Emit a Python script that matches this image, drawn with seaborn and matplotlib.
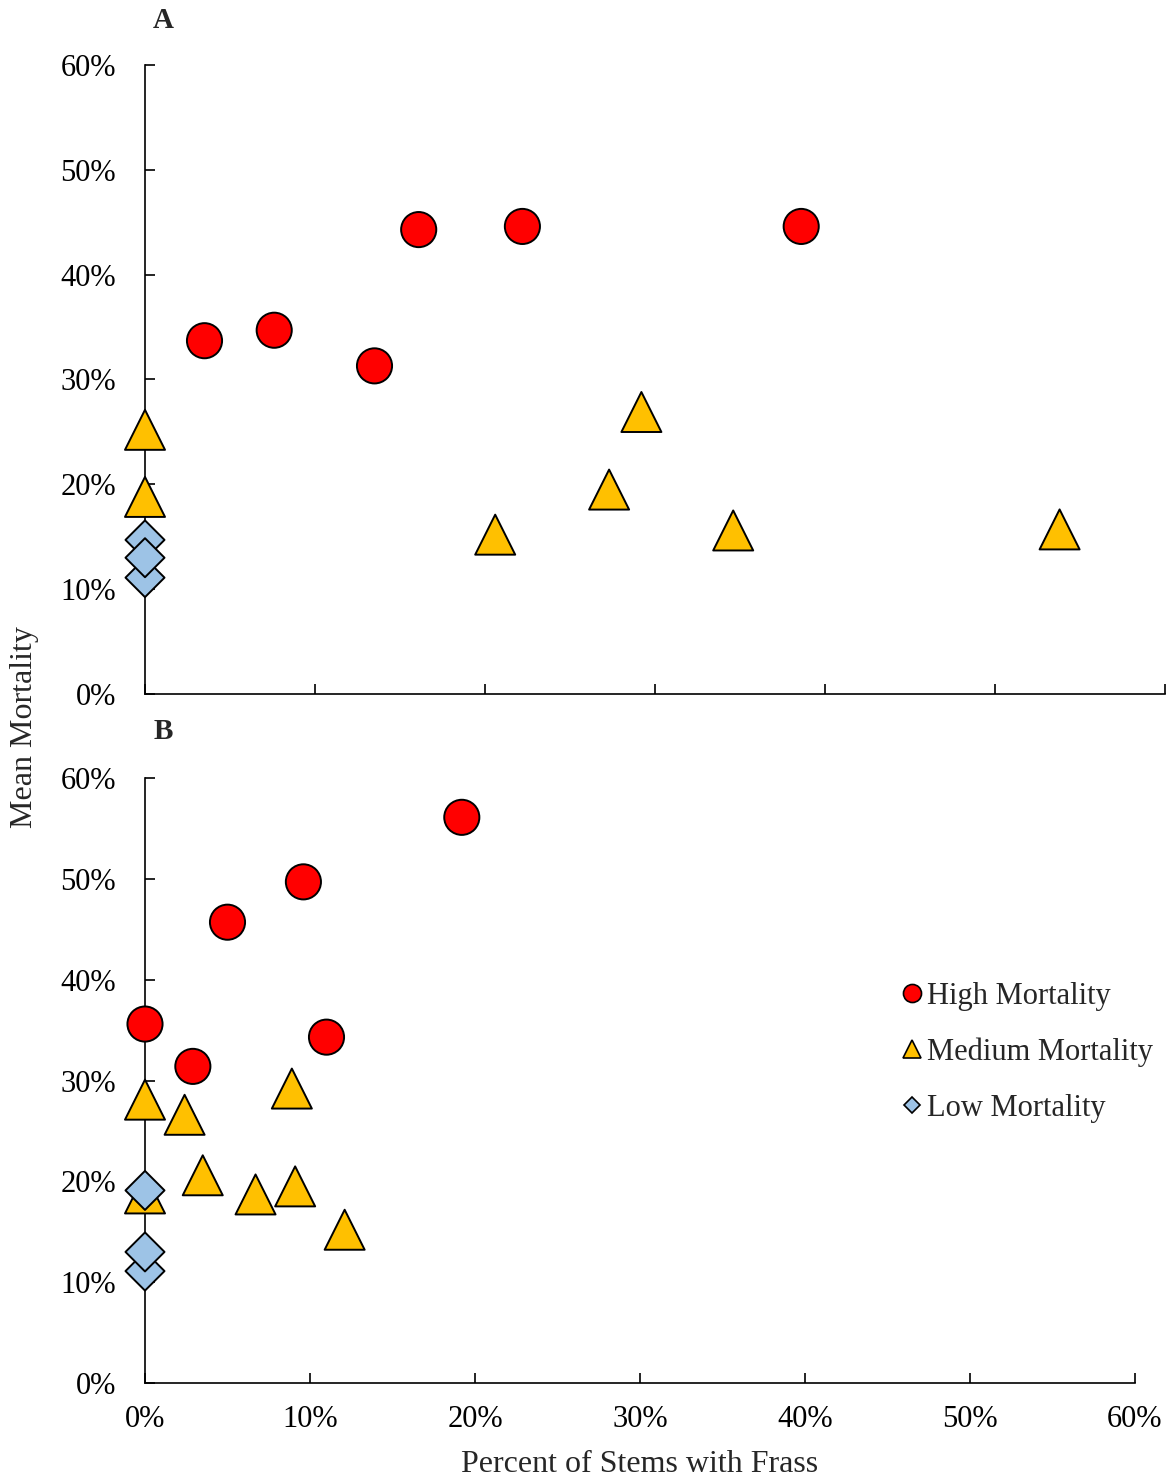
import numpy as np
import pandas as pd
import matplotlib
matplotlib.use("Agg")
import matplotlib.pyplot as plt
from matplotlib.ticker import PercentFormatter
from matplotlib.lines import Line2D
import seaborn as sns

# ---------------- data (percent) ----------------
groups = ["High Mortality", "Medium Mortality", "Low Mortality"]

# Panel A
a_high_x = [3.5, 7.6, 13.5, 16.1, 22.2, 38.6]
a_high_y = [33.7, 34.7, 31.3, 44.3, 44.6, 44.6]
a_med_x = [0.0, 0.0, 20.6, 27.3, 29.2, 34.6, 53.8]
a_med_y = [25.2, 18.8, 15.2, 19.5, 26.9, 15.6, 15.7]
a_low_x = [0.0, 0.0, 0.0]
a_low_y = [14.7, 11.1, 13.0]

# Panel B
b_high_x = [0.0, 2.9, 5.0, 9.6, 11.0, 19.2]
b_high_y = [35.6, 31.4, 45.7, 49.7, 34.3, 56.1]
b_med_x = [0.0, 2.4, 3.5, 6.7, 9.1, 8.9, 12.1, 0.0]
b_med_y = [28.1, 26.6, 20.6, 18.7, 19.5, 29.2, 15.2, 18.8]
b_low_x = [0.0, 0.0, 0.0]
b_low_y = [19.1, 11.1, 13.0]

tick_vals = [0, 10, 20, 30, 40, 50, 60]

palette = {"High Mortality": "#FF0000", "Medium Mortality": "#FFC000", "Low Mortality": "#9DC3E6"}
markers = {"High Mortality": "o", "Medium Mortality": "^", "Low Mortality": "D"}
sizes = {"High Mortality": 640, "Medium Mortality": 830, "Low Mortality": 395}


def make_df(hx, hy, mx, my, lx, ly):
    parts = []
    for g, xs, ys in zip(groups, [hx, mx, lx], [hy, my, ly]):
        parts.append(pd.DataFrame({"x": xs, "y": ys, "group": g}))
    return pd.concat(parts, ignore_index=True)


df_a = make_df(a_high_x, a_high_y, a_med_x, a_med_y, a_low_x, a_low_y)
df_b = make_df(b_high_x, b_high_y, b_med_x, b_med_y, b_low_x, b_low_y)

sns.set_style("ticks")
plt.rcParams["font.family"] = ["Liberation Serif", "DejaVu Serif"]
plt.rcParams["font.size"] = 22

W, H = 1169, 1482
fig = plt.figure(figsize=(W / 100, H / 100), dpi=100)
fig.patch.set_facecolor("white")

ax_a = fig.add_axes([145 / W, 1 - 694 / H, (1165 - 145) / W, (694 - 65) / H])
ax_b = fig.add_axes([145 / W, 1 - 1383 / H, (1135 - 145) / W, (1383 - 778) / H])

for ax, df in [(ax_a, df_a), (ax_b, df_b)]:
    sns.scatterplot(data=df, x="x", y="y", hue="group", style="group", size="group",
                    palette=palette, markers=markers, sizes=sizes,
                    edgecolor="black", linewidth=1.4, alpha=1, legend=False,
                    clip_on=False, zorder=3, ax=ax)
    ax.set_xlim(0, 60)
    ax.set_ylim(0, 60)
    ax.set_xticks(tick_vals)
    ax.set_yticks(tick_vals)
    ax.xaxis.set_major_formatter(PercentFormatter(xmax=100, decimals=0))
    ax.yaxis.set_major_formatter(PercentFormatter(xmax=100, decimals=0))
    ax.set_xlabel("")
    ax.set_ylabel("")
    for s in ["top", "right"]:
        ax.spines[s].set_visible(False)
    for s in ["left", "bottom"]:
        ax.spines[s].set_linewidth(1.2)
        ax.spines[s].set_color("black")
    ax.tick_params(axis="both", direction="in", length=7, width=1.2, colors="black",
                   labelsize=22)
    ax.tick_params(axis="y", pad=21)
    ax.tick_params(axis="x", pad=16)
    ax.set_facecolor("white")

ax_a.tick_params(axis="x", labelbottom=False)

fig.text(163 / W, 1 - 20 / H, "A", fontsize=21, fontweight="bold", ha="center", va="center")
fig.text(163 / W, 1 - 731 / H, "B", fontsize=21, fontweight="bold", ha="center", va="center")
fig.text(25 / W, 1 - 727 / H, "Mean Mortality", rotation=90, fontsize=23, ha="center", va="center")
fig.text(640 / W, 1 - 1464 / H, "Percent of Stems with Frass", fontsize=23, ha="center", va="center")

handles = [
    Line2D([], [], linestyle="none", marker="o", markersize=13, markerfacecolor=palette[groups[0]],
           markeredgecolor="black", markeredgewidth=1.2),
    Line2D([], [], linestyle="none", marker="^", markersize=13, markerfacecolor=palette[groups[1]],
           markeredgecolor="black", markeredgewidth=1.2),
    Line2D([], [], linestyle="none", marker="D", markersize=8.5, markerfacecolor=palette[groups[2]],
           markeredgecolor="black", markeredgewidth=1.2),
]
fig.legend(handles, groups, loc="upper left", bbox_to_anchor=(900 / W, 1 - 982 / H),
           frameon=False, fontsize=22, handlelength=0.8, handletextpad=0.1,
           borderpad=0, borderaxespad=0, labelspacing=0.87)

fig.savefig("out.png", dpi=100, facecolor="white")
